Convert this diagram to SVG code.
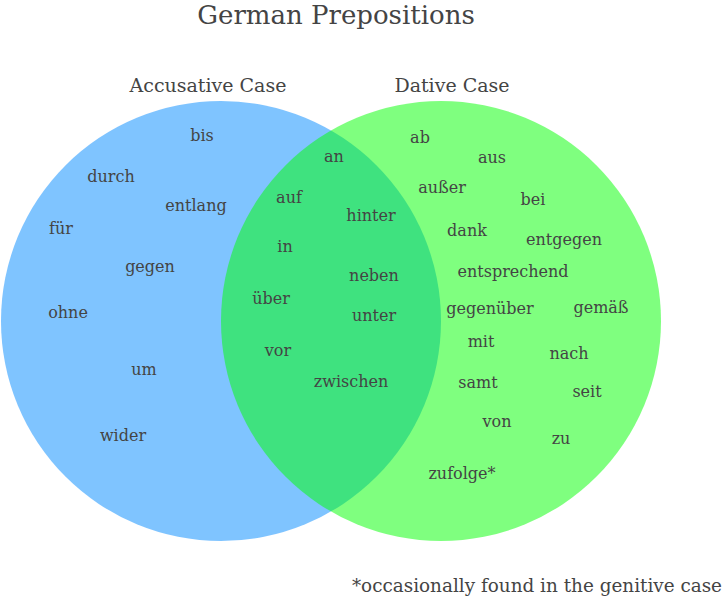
<svg xmlns="http://www.w3.org/2000/svg" width="723" height="599" viewBox="0 0 723 599">
<style>
text{font-family:"DejaVu Serif","Liberation Serif",serif;fill:#444;text-anchor:middle}
.w{font-size:16px}
.lab{font-size:19px}
.title{font-size:26px}
.foot{font-size:18.4px;text-anchor:end}
</style>
<rect width="723" height="599" fill="#fff"/>
<text class="title" x="336" y="24">German Prepositions</text>
<g id="accusative">
<circle cx="221" cy="321" r="220" fill="#0089ff" fill-opacity="0.5"/>
<text class="lab" x="208" y="92">Accusative Case</text>
</g>
<g id="dative">
<circle cx="441" cy="321" r="220" fill="#00ff00" fill-opacity="0.5"/>
<text class="lab" x="452" y="92">Dative Case</text>
</g>
<g id="acc-words">
<text class="w" x="202" y="141">bis</text>
<text class="w" x="111" y="182">durch</text>
<text class="w" x="196" y="211">entlang</text>
<text class="w" x="61" y="234">für</text>
<text class="w" x="150" y="272">gegen</text>
<text class="w" x="68" y="318">ohne</text>
<text class="w" x="144" y="375">um</text>
<text class="w" x="123" y="441">wider</text>
</g>
<g id="both-words">
<text class="w" x="334" y="162">an</text>
<text class="w" x="289" y="203">auf</text>
<text class="w" x="371" y="221">hinter</text>
<text class="w" x="285" y="252">in</text>
<text class="w" x="374" y="281">neben</text>
<text class="w" x="271" y="304">über</text>
<text class="w" x="374" y="321">unter</text>
<text class="w" x="278" y="356">vor</text>
<text class="w" x="351" y="387">zwischen</text>
</g>
<g id="dat-words">
<text class="w" x="420" y="143">ab</text>
<text class="w" x="492" y="163">aus</text>
<text class="w" x="442" y="193">außer</text>
<text class="w" x="533" y="205">bei</text>
<text class="w" x="467" y="236">dank</text>
<text class="w" x="564" y="245">entgegen</text>
<text class="w" x="513" y="277">entsprechend</text>
<text class="w" x="490" y="314">gegenüber</text>
<text class="w" x="601" y="313">gemäß</text>
<text class="w" x="481" y="347">mit</text>
<text class="w" x="569" y="359">nach</text>
<text class="w" x="478" y="388">samt</text>
<text class="w" x="587" y="397">seit</text>
<text class="w" x="497" y="427">von</text>
<text class="w" x="561" y="444">zu</text>
<text class="w" x="462" y="479">zufolge*</text>
</g>
<text class="foot" x="722" y="592">*occasionally found in the genitive case</text>
</svg>
